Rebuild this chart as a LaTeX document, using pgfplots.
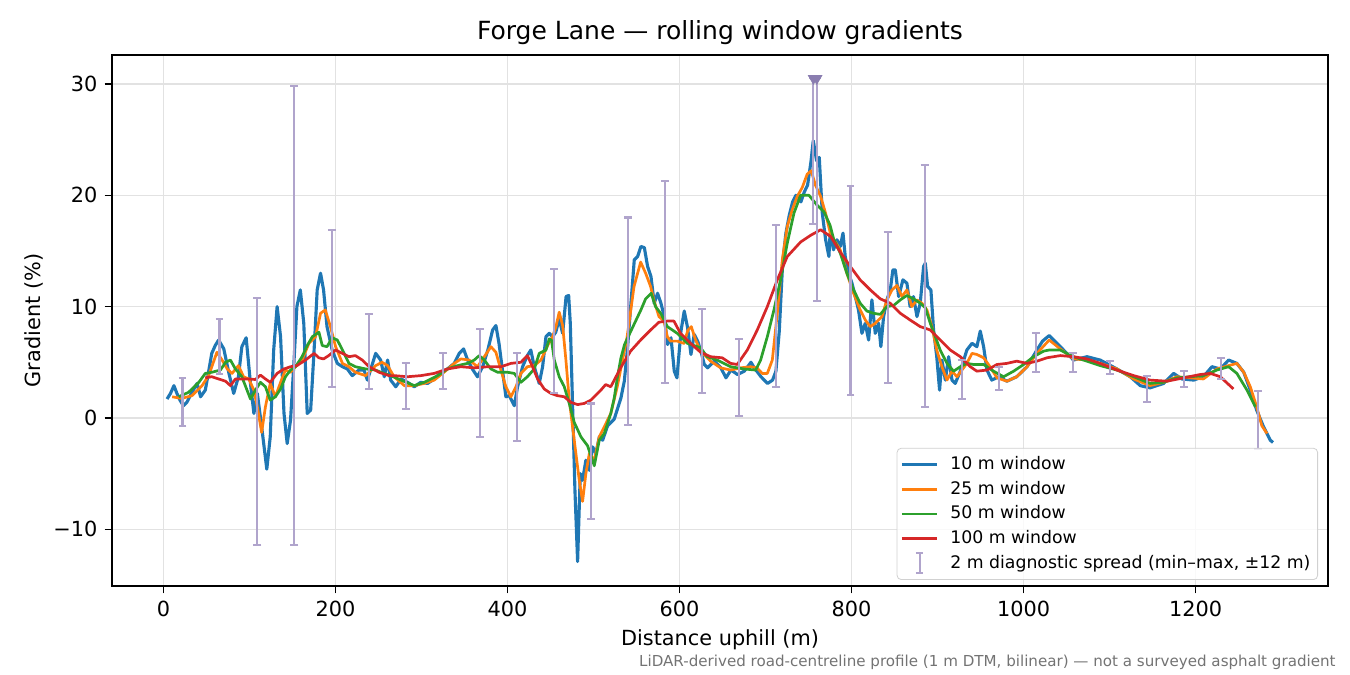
\documentclass[border=0pt]{standalone}
\usepackage{fontspec}
\setmainfont{DejaVu Sans}
\usepackage{pgfplots}
\usepackage{pgfplotstable}
\pgfplotsset{compat=1.18}

\definecolor{cA}{HTML}{1F77B4}
\definecolor{cB}{HTML}{FF7F0E}
\definecolor{cC}{HTML}{2CA02C}
\definecolor{cD}{HTML}{D62728}
\definecolor{errcol}{RGB}{176,164,204}
\definecolor{tricol}{RGB}{138,125,176}
\definecolor{gridcol}{RGB}{226,226,226}

% 10 m window
\pgfplotstableread{
x y
4 1.7
8 2.2
12 2.9
15.5 2.2
19 1.6
23 1.1
27 1.4
33 2.3
39 3.1
43 1.9
48.5 2.5
52 4.0
56 5.8
60 6.5
64 7.0
70 6.2
76 4.0
81.5 2.2
87 3.7
91 6.4
96 7.2
101 3.1
105 0.4
109 2.2
114.5 -1.1
120 -4.6
124 -1.7
128 6.1
132 10.0
136 7.3
140 0.4
143.7 -2.3
147.6 -0.2
151.5 4.9
155 10.0
159 11.5
163 8.5
167 0.4
171 0.7
175 6.1
178.6 11.5
182.5 13.0
186 11.5
190 8.2
196 6.1
202 4.9
208 4.6
213.6 4.4
219.4 3.8
227 4.3
233 4.3
237 3.4
243 4.9
246.6 5.8
252.4 5.2
256.6 3.7
260.5 5.2
264 3.4
270 2.8
276 3.5
283.7 3.2
291.5 2.8
299 3.2
307 3.1
314.7 3.5
322.5 4.1
330 4.4
338 4.9
343.8 5.8
348.8 6.2
353.5 5.2
359 4.4
365 3.7
371 4.6
377 6.1
382.6 7.9
386.4 8.3
390 6.7
394 4.3
398 1.9
402 2.0
407.8 1.1
411.6 2.8
417.4 4.6
423 5.6
427 6.1
431 4.6
436.8 3.1
440.7 4.6
444.6 7.3
448.4 7.6
452.3 7.3
456 7.7
460 8.9
464 7.6
468 10.9
471 11.0
472.9 8.5
475.6 1.0
478.3 -6.5
481.4 -12.9
484.5 -5.0
487.2 -5.6
491 -3.8
495 -4.7
498.8 -2.6
502.7 -3.2
506.6 -1.7
510.5 -2.0
516.3 -0.7
524 -0.1
531.8 1.8
535.7 3.3
539.5 6.3
543.4 10.3
547.3 14.2
551.2 14.5
555 15.4
559 15.3
562.8 13.6
566.7 12.7
570.5 10.3
574.4 11.2
578.3 10.3
582.2 9.1
586 6.6
590 7.2
593.8 4.2
596.9 3.6
601.6 7.8
605.4 9.6
609.3 8.1
613.2 5.7
617 7.5
621 6.9
624.8 6.0
628.7 4.8
632.6 4.5
636.4 4.8
640.3 5.1
648 4.5
653.9 3.6
659.7 4.3
667.4 3.9
675.2 4.2
683 5.0
686.8 4.5
694.6 3.7
702.3 3.1
708.1 3.4
712 4.2
715.9 7.8
719.8 13.9
723.6 16.6
727.5 18.2
731.4 19.4
735.3 20.0
741 19.4
745 20.3
748.8 20.9
752.7 23.0
755.4 24.9
759.3 23.1
762.4 23.4
765.9 18.4
769.8 16.0
773.6 14.5
775 16.6
779 15.1
783 16.0
786.8 15.4
790 16.6
792.6 14.5
796.5 13.0
800.4 12.1
804.3 10.9
808 9.7
812 7.6
815.9 8.5
819.8 7.0
823.6 10.6
827.5 7.6
831.4 8.5
834 6.4
837.2 9.1
841 10.6
845 11.5
848 13.3
850.8 13.3
854.7 10.9
859.7 12.4
864.3 12.1
868 10.0
872 10.9
876 9.1
879.8 10.3
883.7 13.6
885.7 13.9
888.4 11.8
892.2 11.5
895.3 7.9
899 5.5
902.3 2.5
905 5.2
909 3.4
912.8 5.5
916.7 3.4
920.5 3.1
926.4 4.2
934 6.1
940 6.7
945.7 6.4
949.6 7.8
953.5 6.4
957.4 4.3
963 3.4
971 3.7
980.6 3.3
992 3.7
1004 4.6
1015.5 6.1
1022 6.9
1029.8 7.4
1042.6 6.4
1058 5.2
1073.6 5.5
1089 5.2
1108.5 4.4
1124 3.7
1135.7 2.9
1147 2.7
1162.8 3.1
1174.4 4.0
1184 3.5
1197.7 3.4
1209 3.7
1219 4.6
1228.7 4.4
1238.4 5.2
1248 4.9
1256 4.1
1263.6 2.5
1271 0.7
1279 -0.8
1286.8 -2.0
1290 -2.2
}\winA

% 25 m window
\pgfplotstableread{
x y
10 1.9
21 1.75
33 2.0
44.7 2.9
52.4 3.8
62 5.9
68 5.2
74 4.4
79.6 4.0
87 4.7
93 3.7
99 3.5
105 2.5
109 1.0
114 -1.3
118.4 1.0
124 3.1
130 1.9
136 3.2
141.7 4.3
147.6 4.1
153.4 4.6
161 5.2
169 6.7
176.7 7.3
182.5 9.4
188 9.7
194 8.2
200 6.4
208 4.9
215.5 4.6
223 4.1
235 3.8
246.6 4.7
254 5.0
260.5 4.7
268 3.7
280 2.9
291.5 2.9
303 3.1
314.7 3.4
326 4.1
338 4.9
345.7 5.3
355.4 5.2
365 4.6
372.9 5.5
380.6 6.4
386.4 5.9
392.2 4.3
398 2.8
403.9 1.9
409.7 2.8
415.5 4.0
423 4.6
431 4.7
438.8 5.2
446.5 6.5
452.3 7.3
456.2 8.2
460 9.5
464 8.3
467.8 5.2
471.7 1.6
477.5 -2.0
483.3 -5.6
487.2 -7.5
491 -5.0
495 -3.2
500.8 -3.8
506.6 -1.7
512.4 -0.8
520 0.4
527.5 2.8
539 7.3
547 11.8
554.7 14.0
560.5 13.0
566.3 11.8
570 10.6
576 9.1
582 8.7
585.7 7.3
589.5 6.9
597.3 6.9
605 6.7
609.7 7.9
613.6 8.2
618.6 7.0
624.4 6.0
636 5.1
647.7 4.5
659.3 4.3
671 4.5
682.6 4.6
690 4.5
696 4.0
702 4.0
707.8 5.2
713.6 9.4
719.4 14.2
725.2 17.2
731 18.7
736.8 19.9
742.6 20.7
748.4 21.9
753 22.2
758 20.9
764 19.9
769.7 18.4
775.5 16.5
786.8 15.1
794.5 13.0
802.3 11.2
810 9.7
815.9 8.8
821.7 8.2
827.5 8.5
835.3 9.1
841 10.6
847 11.5
852.7 11.9
858.5 10.9
864.3 11.5
870 10.0
876 10.6
881.8 10.3
887.6 9.7
893.4 8.2
899 6.1
905 4.6
910.9 3.4
916.7 4.2
922.5 3.7
928.3 4.3
934 4.9
940 5.8
945.7 5.7
953.5 5.4
961 4.6
969 3.6
980.6 3.3
992 3.7
1004 4.6
1015.5 5.8
1029.8 7.0
1042.6 6.2
1058 5.3
1073.6 5.2
1089 4.9
1108.5 4.4
1128 3.5
1147 2.9
1162.8 3.2
1178.3 3.7
1193.8 3.6
1209 3.5
1224.8 4.4
1238.4 4.7
1248 4.9
1256 4.1
1263.6 2.8
1271 1.0
1277 -0.7
1283 -1.4
}\winB

% 50 m window
\pgfplotstableread{
x y
17.5 1.9
29 2.3
41 3.2
48.5 4.0
56 4.1
66 4.3
72 5.0
77.7 5.2
83.5 4.4
91 3.7
97 2.5
101 1.7
106.8 2.5
112.6 3.2
118.4 2.8
124 1.6
130 1.9
136 2.6
141.7 3.7
147.6 4.3
153.4 4.6
161 5.5
167 6.5
173 7.3
180.6 7.7
184.5 6.5
190 6.4
196 7.2
202 7.0
208 6.1
215.5 4.9
223 4.6
235 4.4
246.6 4.3
252.7 4.1
264 3.8
276 3.4
291.5 2.9
303 3.2
318.6 3.8
330 4.4
341.9 4.7
353.5 4.9
361.2 5.2
367 5.6
372.9 5.2
380.6 4.4
388.4 4.1
400 4.1
407.8 4.0
415.5 3.2
423 3.7
431 4.4
436.8 5.8
444.6 6.1
448.4 7.1
451 7.0
454.3 5.2
460 3.7
465.9 2.8
471.7 1.3
477.5 -0.4
485.3 -1.7
493 -2.5
500.8 -4.3
506.6 -2.0
512.4 -1.4
520 0.4
524 1.8
528 3.8
531.8 5.4
536 6.6
547 8.4
555 9.7
560.5 10.7
567 11.2
572 10.0
578 9.4
585.7 8.2
597.3 7.6
609 6.7
624.4 6.3
632 5.5
643.8 5.2
659.3 4.6
674.8 4.4
688.4 4.3
694.2 5.2
702 7.3
709.7 9.7
717.4 12.4
725.2 15.7
733 18.4
740.7 20.0
750.4 20.0
760 19.1
768 18.5
775 17.3
779 16.1
786.8 14.8
794.5 13.0
802.3 11.5
810 10.3
817.8 9.6
825.5 9.4
833.3 9.3
841 10.0
848.8 10.1
856.6 10.6
864.3 11.0
872 10.7
879.8 10.3
885.7 9.9
891.5 8.5
897.3 7.3
903 6.1
910.9 4.9
918.6 4.2
926.4 4.6
934 4.9
941.9 4.8
953.5 4.8
965 4.2
976.7 3.7
988.4 4.2
1000 4.8
1011.6 5.5
1023.3 6.0
1029.8 6.1
1042.6 6.1
1058 5.5
1073.6 5.1
1089 4.7
1108.5 4.3
1128 3.7
1147 3.1
1162.8 3.2
1178.3 3.6
1193.8 3.7
1209 3.8
1224.8 4.3
1238.4 4.6
1248 4.0
1259.7 2.5
1269.4 1.0
}\winC

% 100 m window
\pgfplotstableread{
x y
48.5 3.6
56 3.7
64 3.5
72 3.3
77.7 2.9
83.5 3.5
91 3.5
99 3.5
106.8 3.45
112.6 3.85
118.4 3.5
124 3.2
132 4.0
140 4.4
147.6 4.6
155 4.7
165 5.2
175 5.8
180.6 5.4
186 5.3
192 5.6
200 6.1
208 5.8
215.5 5.5
223 5.6
231 5.2
239 4.6
250.5 4.1
262 3.8
268 3.8
283.7 3.7
299 3.8
314.7 4.0
330 4.4
345.7 4.6
361.2 4.5
377 4.6
392.2 4.6
403.9 4.9
415.5 5.0
423 5.6
429 4.6
434.9 3.5
442.6 2.6
450.4 2.2
458 2.0
465.9 1.9
473.6 1.4
481.4 1.2
489 1.3
496.9 1.6
508.5 2.5
514 3.0
520 2.8
531.4 4.5
543 6.0
554.7 7.0
566.3 7.9
576 8.6
585.7 8.7
593.4 8.7
601 7.6
612.8 6.7
624.4 5.9
636 5.5
649.6 5.4
659.3 4.9
667 4.8
678.7 6.1
690.3 7.9
702 10.0
713.6 12.4
725.2 14.5
740.7 15.8
752.3 16.4
764 16.9
775.6 16.3
786.8 14.9
798.5 13.6
810 12.4
821.7 11.5
833.3 10.7
845 10.3
856.6 9.4
868 8.8
879.8 8.2
891.5 7.9
903 7.0
914.7 6.1
926.4 5.5
938 4.6
945.7 4.2
957.4 4.3
969 4.8
980.6 4.9
992 5.1
1004 4.9
1015.5 5.1
1027 5.4
1042.6 5.6
1058 5.5
1073.6 5.3
1089 4.9
1108.5 4.3
1128 3.8
1147 3.4
1166.7 3.3
1186 3.6
1205.4 3.9
1217 4.0
1228.7 3.7
1244 2.6
}\winD

% 2 m diagnostic spread: min and max within +-12 m
\pgfplotstableread{
x lo hi
22 -0.7 3.6
65 3.95 8.9
109 -11.45 10.8
152 -11.45 29.85
195.5 2.8 16.9
238.6 2.6 9.35
281.5 0.8 4.95
324.6 2.6 5.8
367.7 -1.7 8.0
410.8 -2.1 5.8
453.9 2.2 13.4
497 -9.1 1.3
540.1 -0.6 18.0
583.2 3.1 21.3
626.3 2.2 9.75
669.4 0.2 7.1
712.5 2.8 17.3
755.6 17.4 30.5
759.5 10.5 30.5
798.7 2.1 20.85
841.8 3.1 16.7
884.9 1.0 22.7
928 1.7 5.2
971.1 2.5 4.6
1014.2 4.15 7.6
1057.3 4.15 5.8
1100.4 3.95 5.15
1143.5 1.45 3.8
1186.6 2.8 4.2
1229.7 3.5 5.4
1272.8 -2.8 2.4
}\spread

\begin{document}
\begin{tikzpicture}
\path[use as bounding box] (-53.76pt,-42.7pt) rectangle (594.24pt,281.3pt);
\begin{axis}[
  scale only axis,
  width=583.7pt, height=254.9pt,
  xmin=-60, xmax=1354, ymin=-15.1, ymax=32.6,
  xtick={0,200,400,600,800,1000,1200},
  xticklabels={0,200,400,600,800,1000,1200},
  ytick={-10,0,10,20,30},
  yticklabels={−10,0,10,20,30},
  xtick pos=bottom, ytick pos=left,
  tick align=outside, major tick length=3.5pt,
  tick style={black, line width=0.6pt},
  ticklabel style={font=\fontsize{10}{12}\selectfont},
  grid=major,
  major grid style={gridcol, line width=0.6pt},
  axis line style={black, line width=0.8pt},
  clip=true,
  legend cell align=left,
  legend style={at={(1,0)}, anchor=south east, xshift=-4.8pt, yshift=2.9pt,
    draw=black!18, rounded corners=2pt, fill=white, fill opacity=0.8, text opacity=1,
    font=\fontsize{8.3}{10}\selectfont, row sep=0pt, inner xsep=1.5pt, inner ysep=2pt,
    /tikz/every odd column/.append style={column sep=3.5pt}},
]
\addplot[cA, line width=1.5pt, line join=round] table[x=x, y=y] {\winA};
\addlegendentry{10 m window}
\addplot[cB, line width=1.3pt, line join=round] table[x=x, y=y] {\winB};
\addlegendentry{25 m window}
\addplot[cC, line width=1.3pt, line join=round] table[x=x, y=y] {\winC};
\addlegendentry{50 m window}
\addplot[cD, line width=1.3pt, line join=round] table[x=x, y=y] {\winD};
\addlegendentry{100 m window}
\addplot[draw=none, mark=none, forget plot,
  error bars/.cd, y dir=both, y explicit,
  error bar style={errcol, line width=1pt},
  error mark options={errcol, rotate=90, mark size=1.9pt, line width=1pt}]
  table[x=x, y expr={(\thisrow{lo}+\thisrow{hi})/2}, y error expr={(\thisrow{hi}-\thisrow{lo})/2}] {\spread};
\addlegendimage{legend image code/.code={
  \draw[errcol, line width=1pt] (0.3cm,-0.17cm) -- (0.3cm,0.17cm);
  \draw[errcol, line width=1pt] (0.24cm,-0.17cm) -- (0.36cm,-0.17cm);
  \draw[errcol, line width=1pt] (0.24cm,0.17cm) -- (0.36cm,0.17cm);}}
\addlegendentry{2 m diagnostic spread (min–max, ±12 m)}
\addplot[only marks, mark=triangle*, mark size=2.8pt, mark options={rotate=180, fill=tricol, draw=tricol}, forget plot]
  coordinates {(755.6,30.5) (759.5,30.5)};
\end{axis}
\node[font=\fontsize{12}{14}\selectfont] at (291.85pt,265.5pt) {Forge Lane — rolling window gradients};
\node[font=\fontsize{10}{12}\selectfont] at (291.85pt,-25.9pt) {Distance uphill (m)};
\node[font=\fontsize{10}{12}\selectfont, rotate=90] at (-37.4pt,127.45pt) {Gradient (\%)};
\node[font=\fontsize{7.25}{9}\selectfont, text=black!55, anchor=east, inner sep=0pt] at (587.5pt,-36.8pt)
  {LiDAR-derived road-centreline profile (1 m DTM, bilinear) — not a surveyed asphalt gradient};
\end{tikzpicture}
\end{document}
